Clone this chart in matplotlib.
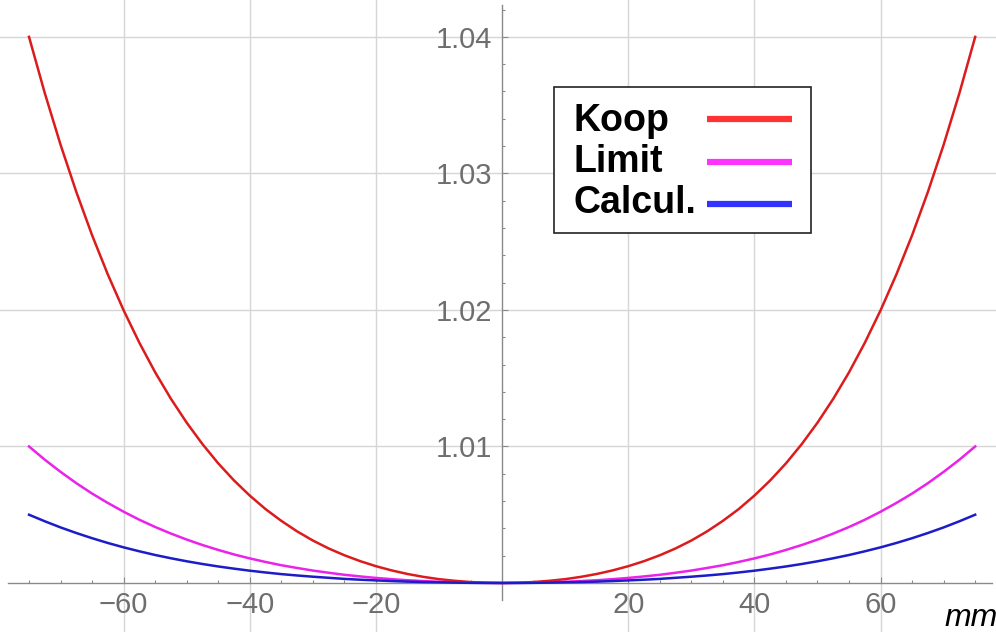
import matplotlib.pyplot as plt
from matplotlib.ticker import FixedLocator
from matplotlib.lines import Line2D
from matplotlib.patches import Rectangle

# right half of the aperture (mm); the profiles are symmetric about x = 0
x_half = [0, 2.5, 5, 7.5, 10, 12.5, 15, 17.5, 20, 22.5, 25, 27.5, 30, 32.5, 35,
          37.5, 40, 42.5, 45, 47.5, 50, 52.5, 55, 57.5, 60, 62.5, 65, 67.5, 70,
          72.5, 75]

koop_half = [1.0, 1.00002, 1.00007, 1.00016, 1.00028, 1.00045, 1.00066, 1.00092,
             1.00123, 1.0016, 1.00203, 1.00253, 1.00311, 1.00378, 1.00455,
             1.00541, 1.0064, 1.00751, 1.00876, 1.01017, 1.01174, 1.01349,
             1.01543, 1.01759, 1.01997, 1.02259, 1.02547, 1.02864, 1.0321,
             1.03588, 1.04]

limit_half = [1.0, 1.00001, 1.00002, 1.00005, 1.00009, 1.00014, 1.0002, 1.00028,
              1.00037, 1.00048, 1.0006, 1.00075, 1.00091, 1.0011, 1.0013,
              1.00154, 1.0018, 1.00209, 1.00242, 1.00278, 1.00318, 1.00362,
              1.0041, 1.00463, 1.00522, 1.00586, 1.00655, 1.00731, 1.00814,
              1.00903, 1.01]

calcul_half = [1.0, 1.0, 1.00001, 1.00003, 1.00005, 1.00007, 1.0001, 1.00014,
               1.00019, 1.00024, 1.0003, 1.00038, 1.00046, 1.00055, 1.00065,
               1.00077, 1.0009, 1.00105, 1.00121, 1.00139, 1.00159, 1.00181,
               1.00205, 1.00232, 1.00261, 1.00293, 1.00328, 1.00366, 1.00407,
               1.00452, 1.005]


def mirror(half):
    return list(reversed(half[1:])) + half


x_mm = [-v for v in reversed(x_half[1:])] + x_half
koop = mirror(koop_half)
limit = mirror(limit_half)
calcul = mirror(calcul_half)

labels = ['Koop', 'Limit', 'Calcul.']
curve_colors = ['#dc1c1c', '#ea22ea', '#1c1cc8']
key_colors = ['#ff3333', '#ff33ff', '#3333ff']

x_major = [-60, -40, -20, 20, 40, 60]
x_minor = [v for v in range(-75, 80, 5) if v not in x_major and v != 0]
y_major = [1.01, 1.02, 1.03, 1.04]
y_minor = [1.002, 1.004, 1.006, 1.008, 1.012, 1.014, 1.016, 1.018,
           1.022, 1.024, 1.026, 1.028, 1.032, 1.034, 1.036, 1.038, 1.042]

plt.rcParams['font.family'] = ['Liberation Sans', 'DejaVu Sans']

W, H = 996, 632
fig = plt.figure(figsize=(W / 100, H / 100), dpi=100)
ax = fig.add_axes([0, 0, 1, 1])

for ys, c in zip([koop, limit, calcul], curve_colors):
    ax.plot(x_mm, ys, color=c, lw=1.8, zorder=3)

ax.set_xlim(-79.6, 78.3)
ax.set_ylim(0.99641, 1.0427)

axis_grey = '#8a8a8a'
for side in ['top', 'right']:
    ax.spines[side].set_visible(False)
ax.spines['left'].set_position(('data', 0))
ax.spines['bottom'].set_position(('data', 1.0))
ax.spines['left'].set_bounds(0.99875, 1.04233)
ax.spines['bottom'].set_bounds(-78.3, 77.7)
for side in ['left', 'bottom']:
    ax.spines[side].set_color(axis_grey)
    ax.spines[side].set_linewidth(1.0)

ax.xaxis.set_major_locator(FixedLocator(x_major))
ax.xaxis.set_minor_locator(FixedLocator(x_minor))
ax.yaxis.set_major_locator(FixedLocator(y_major))
ax.yaxis.set_minor_locator(FixedLocator(y_minor))
ax.set_xticklabels([f'\u2212{abs(v)}' if v < 0 else str(v) for v in x_major])
ax.set_yticklabels([f'{v:.2f}' for v in y_major])

ax.tick_params(which='both', direction='in', color=axis_grey, width=0.8,
               labelsize=21, labelcolor='#6e6e6e')
ax.tick_params(which='major', length=4.5)
ax.tick_params(which='minor', length=2.2)
ax.tick_params(axis='x', which='major', pad=6)
ax.tick_params(axis='y', which='major', pad=7)

ax.grid(True, which='major', color='#d6d6d6', lw=1.0, zorder=0)
ax.set_axisbelow(True)


# legend box drawn by hand so the labels stay left-aligned with keys on the right
def fx(px):
    return px / W


def fy(py):
    return 1 - py / H


fig.add_artist(Rectangle((fx(554), fy(233)), fx(811) - fx(554), fy(87) - fy(233),
                         transform=fig.transFigure, facecolor='white',
                         edgecolor='#222222', lw=1.2, zorder=5))
baselines = [131, 172, 213]
key_rows = [119, 162, 204]
for lab, col, yb, yk in zip(labels, key_colors, baselines, key_rows):
    fig.text(fx(573), fy(yb), lab, fontsize=27, fontweight='bold',
             ha='left', va='baseline', color='black', zorder=6)
    fig.add_artist(Line2D([fx(707), fx(792)], [fy(yk), fy(yk)],
                          transform=fig.transFigure, color=col, lw=4.5,
                          solid_capstyle='butt', zorder=6))

fig.text(fx(944), fy(626), 'mm', style='italic', fontsize=23,
         ha='left', va='baseline', color='black')

fig.savefig('out.png', dpi=100)
